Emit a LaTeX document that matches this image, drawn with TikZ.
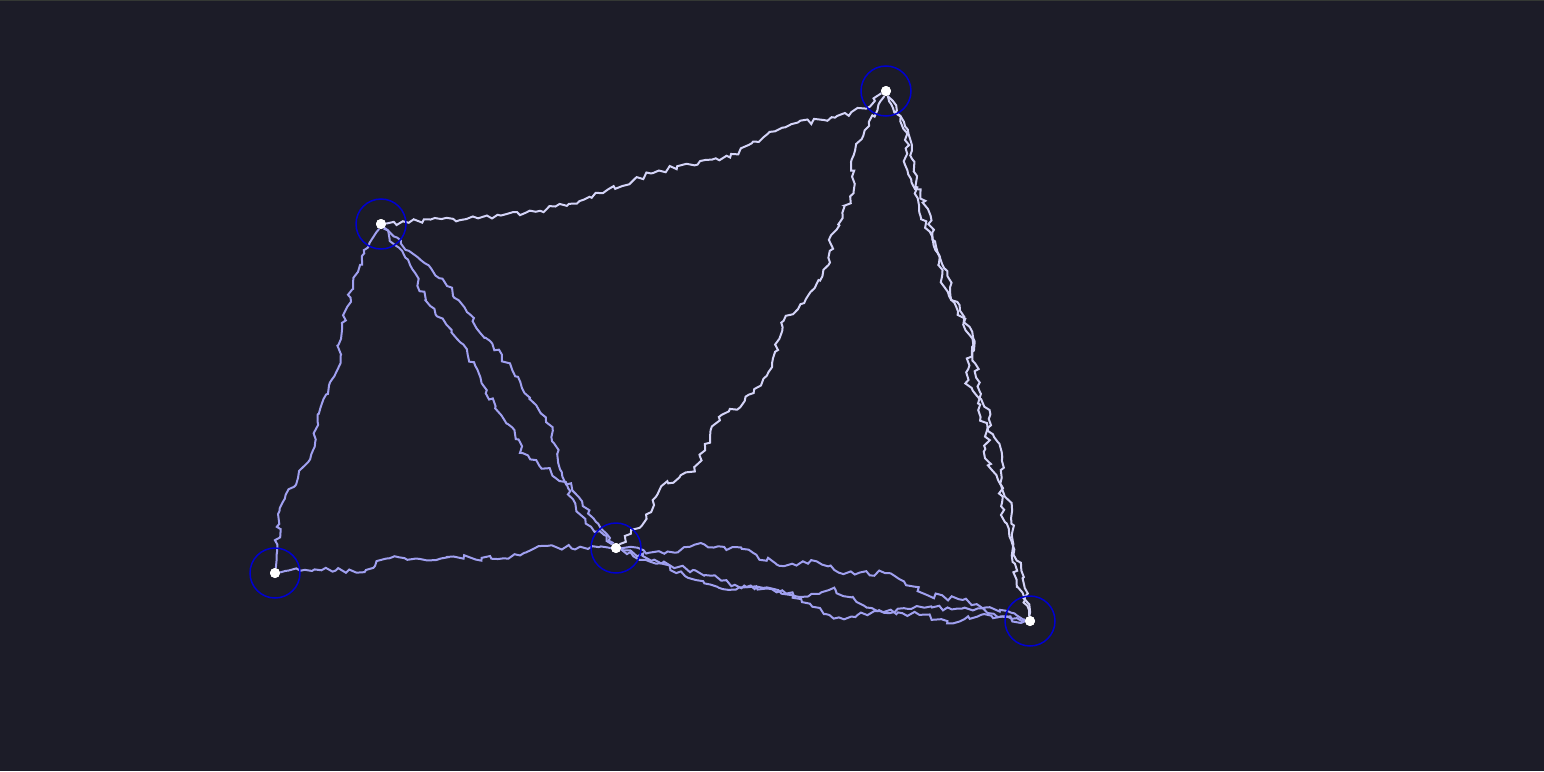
\documentclass[tikz,border=0pt]{standalone}
\usepackage{tikz}
\usetikzlibrary{decorations.pathmorphing}

\definecolor{bgdark}{RGB}{28,28,40}
\definecolor{topline}{RGB}{52,56,52}
\definecolor{boltlav}{RGB}{160,160,240}
\definecolor{boltpale}{RGB}{212,212,248}
\definecolor{ringblue}{RGB}{0,0,210}

\tikzset{
    hub/.style={circle, fill=white, inner sep=0pt, minimum size=10pt},
    ring/.style={circle, draw=ringblue, line width=1.5pt, minimum size=50pt, inner sep=0pt},
    bolt/.style={line width=2pt, line join=miter, miter limit=6},
    wander/.style={decoration={random steps, segment length=38pt, amplitude=10pt}},
    jitter/.style={decoration={random steps, segment length=5pt, amplitude=2.8pt}}
}

\begin{document}
\begin{tikzpicture}[x=1pt, y=-1pt]
    % fond
    \fill[bgdark] (0,0) rectangle (1544,771);
    \useasboundingbox (0,0) rectangle (1544,771);
    \draw[topline, line width=1pt] (0,0.5) -- (1544,0.5);

    % les noeuds
    \node[hub] (a) at (381,224) {};
    \node[hub] (b) at (886,91) {};
    \node[hub] (c) at (275,573) {};
    \node[hub] (d) at (616,548) {};
    \node[hub] (e) at (1030,621) {};

    % les eclairs
    \pgfmathsetseed{11}
    \draw[bolt, boltpale] decorate[jitter]{decorate[wander]{(a) to[bend right=10] (b)}};
    \pgfmathsetseed{23}
    \draw[bolt, boltlav] decorate[jitter]{decorate[wander]{(a) to[bend right=4] (c)}};
    \pgfmathsetseed{37}
    \draw[bolt, boltlav] decorate[jitter]{decorate[wander]{(a) to[bend right=6] (d)}};
    \pgfmathsetseed{41}
    \draw[bolt, boltlav] decorate[jitter]{decorate[wander]{(a) to[bend left=6] (d)}};
    \pgfmathsetseed{53}
    \draw[bolt, boltpale] decorate[jitter]{decorate[wander]{(d) to[bend right=12] (b)}};
    \pgfmathsetseed{67}
    \draw[bolt, boltpale] decorate[jitter]{decorate[wander]{(b) to[bend left=3] (e)}};
    \pgfmathsetseed{71}
    \draw[bolt, boltpale] decorate[jitter]{decorate[wander]{(b) to[bend left=5] (e)}};
    \pgfmathsetseed{83}
    \draw[bolt, boltlav] decorate[jitter]{decorate[wander]{(c) to[bend left=2] (d)}};
    \pgfmathsetseed{97}
    \draw[bolt, boltlav] decorate[jitter]{decorate[wander]{(d) to[bend left=7] (e)}};
    \pgfmathsetseed{101}
    \draw[bolt, boltlav] decorate[jitter]{decorate[wander]{(d) to[bend right=4] (e)}};
    \pgfmathsetseed{113}
    \draw[bolt, boltlav] decorate[jitter]{decorate[wander]{(d) to[bend right=10] (e)}};

    % les anneaux
    \foreach \n in {a,b,c,d,e} {
        \node[hub] at (\n) {};
        \node[ring] (r\n) at (\n) {};
    }
\end{tikzpicture}
\end{document}
